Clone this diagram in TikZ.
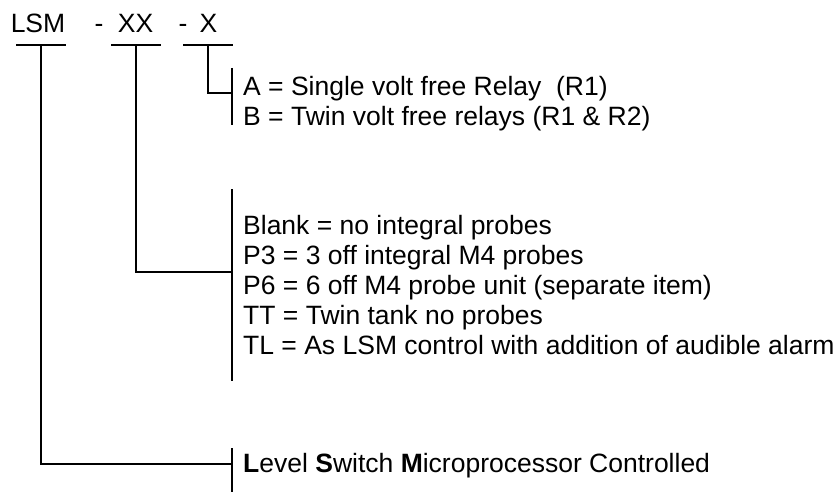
\documentclass[tikz,border=0pt]{standalone}
\usepackage{fontspec}
\setmainfont{Liberation Sans}
\usetikzlibrary{positioning,calc}

\newcommand\descfont{\fontsize{26.5}{30}\selectfont}

\begin{document}
\begin{tikzpicture}[
  x=1pt, y=-1pt,
  code/.style={inner sep=0pt, anchor=base, font=\descfont},
  desc/.style={inner sep=0pt, anchor=north west, align=left, font=\descfont},
  rule/.style={line width=1.2pt}
]
  \useasboundingbox (0,0) rectangle (838,492);

  % part number
  \node[code] (lsm) at (38,33) {LSM};
  \node[code] (dash1) at (99,33) {-};
  \node[code] (xx) at (135.5,33) {XX};
  \node[code] (dash2) at (183,33) {-};
  \node[code] (x) at (208.5,33) {X};

  \coordinate (lsmbar) at (41,45);
  \coordinate (xxbar) at (136,45);
  \coordinate (xbar) at (208,45);
  \foreach \c in {lsmbar,xxbar,xbar}
    \draw[rule] ($(\c)+(-25,0)$) -- ($(\c)+(25,0)$);

  % options
  \node[desc] (relay) at (243,76) {A = Single volt free Relay\ \ (R1)\\
    B = Twin volt free relays (R1 \& R2)};
  \node[desc] (probes) at (243,215) {Blank = no integral probes\\
    P3 = 3 off integral M4 probes\\
    P6 = 6 off M4 probe unit (separate item)\\
    TT = Twin tank no probes\\
    TL = As LSM control with addition of audible alarm};
  \node[desc] (name) at (243,453)
    {\textbf{L}evel \textbf{S}witch \textbf{M}icroprocessor Controlled};

  % brackets
  \draw[rule] (232,68) -- (232,125);
  \draw[rule] (232,189) -- (232,381);
  \draw[rule] (232,448) -- (232,492);

  \coordinate (relayjoin) at (232,93);
  \coordinate (probesjoin) at (232,272);
  \coordinate (namejoin) at (232,464);
  \draw[rule] (xbar) |- (relayjoin);
  \draw[rule] (xxbar) |- (probesjoin);
  \draw[rule] (lsmbar) |- (namejoin);
\end{tikzpicture}
\end{document}
